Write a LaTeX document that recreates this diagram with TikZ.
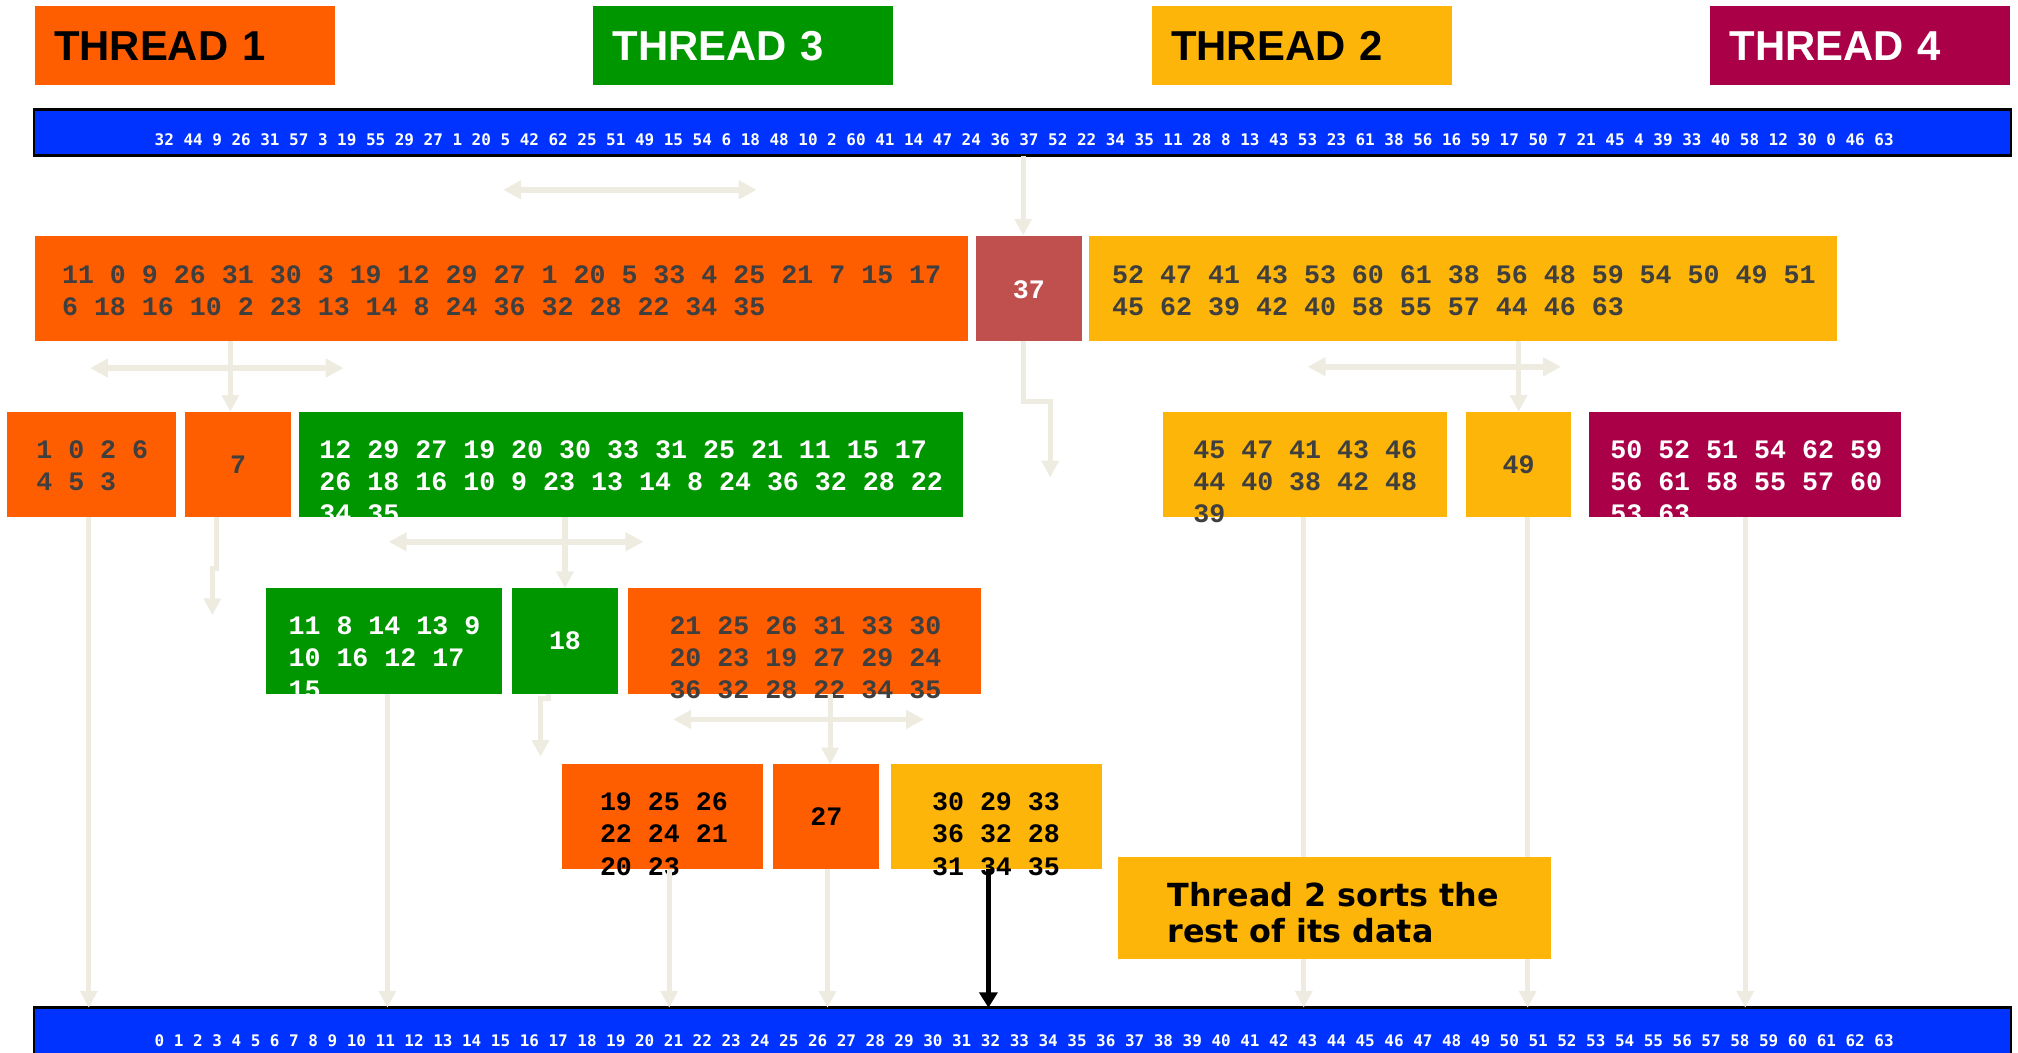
\documentclass[tikz,border=0pt]{standalone}
\usepackage{fontspec}
\usetikzlibrary{arrows.meta}
\newfontfamily\monofnt{Liberation Mono}
\newfontfamily\barfnt{DejaVu Sans Mono}
\newfontfamily\headfnt{Liberation Sans}
\newfontfamily\notefnt{DejaVu Sans}
\definecolor{tOrange}{HTML}{FF5E00}
\definecolor{tGreen}{HTML}{009600}
\definecolor{tYellow}{HTML}{FCB508}
\definecolor{tCrimson}{HTML}{AA0048}
\definecolor{tPivot}{HTML}{C0504D}
\definecolor{tBlue}{HTML}{0033FF}
\definecolor{tArrow}{HTML}{EEECE1}
\definecolor{tInk}{HTML}{3F3F3F}
\begin{document}
\begin{tikzpicture}[x=1pt,y=-1pt,
  cell/.style={inner sep=0pt, outer sep=0pt, anchor=north west, draw=none},
  % multi-line blocks are placed by the baseline of their last line
  nums/.style={inner sep=0pt, align=left, anchor=base west,
    font=\monofnt\bfseries\fontsize{20.7}{25}\selectfont},
  single/.style={inner sep=0pt, font=\monofnt\bfseries\fontsize{20.7}{25}\selectfont},
  head/.style={cell, minimum height=61pt, text width=203pt, inner xsep=15pt,
    align=left, font=\headfnt\bfseries\fontsize{32.5}{36}\selectfont},
  bar/.style={cell, draw=black, line width=2pt, fill=tBlue, minimum width=1536pt},
  bartext/.style={inner sep=0pt, anchor=base west, text=white,
    font=\barfnt\bfseries\fontsize{12.4}{14}\selectfont},
  flow/.style={draw=tArrow, line width=4pt, -{Triangle[width=13pt,length=13pt]}},
  split/.style={draw=tArrow, line width=4.5pt,
    {Triangle[width=14pt,length=14pt]}-{Triangle[width=14pt,length=14pt]}},
  final/.style={draw=black, line width=3.5pt, -{Triangle[width=14pt,length=12pt]}},
]
\useasboundingbox (0,0) rectangle (1568,818);
\clip (0,0) rectangle (1568,818);

% thread legend
\node[head, fill=tOrange, text=black] (th1) at (27,5) {THREAD 1};
\node[head, fill=tGreen, text=white] (th3) at (461,5) {THREAD 3};
\node[head, fill=tYellow, text=black] (th2) at (895,5) {THREAD 2};
\node[head, fill=tCrimson, text=white] (th4) at (1329,5) {THREAD 4};

% level 1: partition around the pivot 37
\node[cell, fill=tOrange, minimum width=725pt, minimum height=82pt] (r2a) at (27,183) {};
\node[cell, fill=tPivot, minimum width=83pt, minimum height=82pt] (r2b) at (758,183) {};
\node[cell, fill=tYellow, minimum width=581pt, minimum height=82pt] (r2c) at (846,183) {};
\node[nums, text=tInk] (r2at) at (48,245.5) {11 0 9 26 31 30 3 19 12 29 27 1 20 5 33 4 25 21 7 15 17\\6 18 16 10 2 23 13 14 8 24 36 32 28 22 34 35};
\node[single, text=white] (r2bt) at ([yshift=-1pt]r2b.center) {37};
\node[nums, text=tInk] (r2ct) at (864,245.5) {52 47 41 43 53 60 61 38 56 48 59 54 50 49 51\\45 62 39 42 40 58 55 57 44 46 63};

% level 2
\node[cell, fill=tOrange, minimum width=131.5pt, minimum height=82pt] (r3a) at (5.5,320) {};
\node[cell, fill=tOrange, minimum width=82pt, minimum height=82pt] (r3b) at (144,320) {};
\node[cell, fill=tGreen, minimum width=516pt, minimum height=82pt] (r3c) at (232,320) {};
\node[cell, fill=tYellow, minimum width=220pt, minimum height=82pt] (r3d) at (904,320) {};
\node[cell, fill=tYellow, minimum width=82pt, minimum height=82pt] (r3e) at (1139,320) {};
\node[cell, fill=tCrimson, minimum width=242pt, minimum height=82pt] (r3f) at (1235,320) {};
\node[nums, text=tInk] (r3at) at (28,381) {1 0 2 6\\4 5 3};
\node[single, text=tInk] (r3bt) at (r3b.center) {7};
\node[nums, text=white] (r3ct) at (248,406) {12 29 27 19 20 30 33 31 25 21 11 15 17\\26 18 16 10 9 23 13 14 8 24 36 32 28 22\\34 35};
\node[nums, text=tInk] (r3dt) at (927,406) {45 47 41 43 46\\44 40 38 42 48\\39};
\node[single, text=tInk] (r3et) at (r3e.center) {49};
\node[nums, text=white] (r3ft) at (1251,406) {50 52 51 54 62 59\\56 61 58 55 57 60\\53 63};

% level 3
\node[cell, fill=tGreen, minimum width=183pt, minimum height=82pt] (r4a) at (207,457) {};
\node[cell, fill=tGreen, minimum width=82pt, minimum height=82pt] (r4b) at (398,457) {};
\node[cell, fill=tOrange, minimum width=274pt, minimum height=82pt] (r4c) at (488,457) {};
\node[nums, text=white] (r4at) at (224,543) {11 8 14 13 9\\10 16 12 17\\15};
\node[single, text=white] (r4bt) at (r4b.center) {18};
\node[nums, text=tInk] (r4ct) at (520,543) {21 25 26 31 33 30\\20 23 19 27 29 24\\36 32 28 22 34 35};

% level 4
\node[cell, fill=tOrange, minimum width=156pt, minimum height=81pt] (r5a) at (437,594) {};
\node[cell, fill=tOrange, minimum width=82pt, minimum height=81pt] (r5b) at (601,594) {};
\node[cell, fill=tYellow, minimum width=164pt, minimum height=81pt] (r5c) at (692,594) {};
\node[nums, text=black] (r5at) at (466,680) {19 25 26\\22 24 21\\20 23};
\node[single, text=black] (r5bt) at (r5b.center) {27};
\node[nums, text=black] (r5ct) at (724,680) {30 29 33\\36 32 28\\31 34 35};

% input and output arrays
\node[bar, minimum height=36pt] (topbar) at (26.5,85) {};
\node[bartext] (topt) at (120,113) {32 44 9 26 31 57 3 19 55 29 27 1 20 5 42 62 25 51 49 15 54 6 18 48 10 2 60 41 14 47 24 36 37 52 22 34 35 11 28 8 13 43 53 23 61 38 56 16 59 17 50 7 21 45 4 39 33 40 58 12 30 0 46 63};
\node[bar, minimum height=60pt] (botbar) at (26.5,783) {};
\node[bartext] (bott) at (120,813) {0 1 2 3 4 5 6 7 8 9 10 11 12 13 14 15 16 17 18 19 20 21 22 23 24 25 26 27 28 29 30 31 32 33 34 35 36 37 38 39 40 41 42 43 44 45 46 47 48 49 50 51 52 53 54 55 56 57 58 59 60 61 62 63};

% column guides for the connectors
\coordinate (xPiv) at (795,0);
\coordinate (xA) at (179,0);
\coordinate (xC) at (1180,0);
\coordinate (xD) at (439,0);
\coordinate (xE) at (645,0);
\coordinate (x1) at (69,0);
\coordinate (x2) at (301,0);
\coordinate (x3) at (520,0);
\coordinate (x4) at (643,0);
\coordinate (x5) at (768,0);
\coordinate (x6) at (1013,0);
\coordinate (x7) at (1187,0);
\coordinate (x8) at (1356,0);

% split markers
\coordinate (sA1) at (391,147.5); \coordinate (sA2) at (588,147.5);
\coordinate (sB1) at (70,286);    \coordinate (sB2) at (267,286);
\coordinate (sC1) at (1016,285);  \coordinate (sC2) at (1213,285);
\coordinate (sD1) at (302,421);   \coordinate (sD2) at (500,421);
\coordinate (sE1) at (523,559);   \coordinate (sE2) at (718,559);
\draw[split] (sA1) -- (sA2);
\draw[split] (sB1) -- (sB2);
\draw[split] (sC1) -- (sC2);
\draw[split] (sD1) -- (sD2);
\draw[split] (sE1) -- (sE2);

% pivot flows
\draw[flow] (topbar.south -| xPiv) -- (r2b.north -| xPiv);
\draw[flow] (r2a.south -| xA) -- (r3b.north -| xA);
\draw[flow] (r2c.south -| xC) -- (r3e.north -| xC);
\draw[flow] (r3c.south -| xD) -- (r4b.north -| xD);
\draw[flow] (r4c.south -| xE) -- (r5b.north -| xE);

% placed pivots moving down
\coordinate (p37a) at (795,312); \coordinate (p37b) at (816,312); \coordinate (p37c) at (816,371);
\draw[flow] (r2b.south -| p37a) -- (p37a) -- (p37b) -- (p37c);
\coordinate (p7a) at (168,442); \coordinate (p7b) at (165,442); \coordinate (p7c) at (165,478);
\draw[flow] (r3b.south -| p7a) -- (p7a) -- (p7b) -- (p7c);
\coordinate (p18a) at (426,543); \coordinate (p18b) at (420,543); \coordinate (p18c) at (420,588);
\draw[flow] (r4b.south -| p18a) -- (p18a) -- (p18b) -- (p18c);

% results written to the output array
\draw[flow] (r3a.south -| x1) -- (botbar.north -| x1);
\draw[flow] (r4a.south -| x2) -- (botbar.north -| x2);
\draw[flow] (r5a.south -| x3) -- (botbar.north -| x3);
\draw[flow] (r5b.south -| x4) -- (botbar.north -| x4);
\draw[final] (r5c.south -| x5) -- (botbar.north -| x5);
\draw[flow] (r3d.south -| x6) -- (botbar.north -| x6);
\draw[flow] (r3e.south -| x7) -- (botbar.north -| x7);
\draw[flow] (r3f.south -| x8) -- (botbar.north -| x8);

% note
\node[cell, fill=tYellow, minimum width=336pt, minimum height=79pt] (note) at (869,666) {};
\node[inner sep=0pt, align=left, anchor=base west, text=black,
  font=\notefnt\bfseries\fontsize{24.7}{28}\selectfont] (notet) at (907,732) {Thread 2 sorts the\\rest of its data};
\end{tikzpicture}
\end{document}
